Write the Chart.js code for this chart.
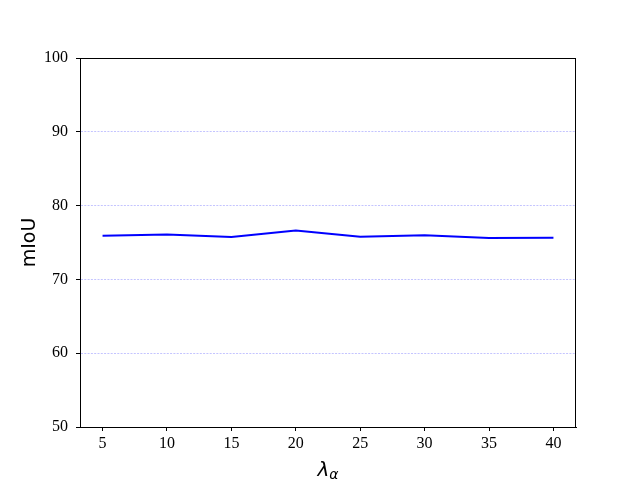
<!DOCTYPE html>
<html>
<head>
<meta charset="utf-8">
<script src="https://cdn.jsdelivr.net/npm/chart.js@4/dist/chart.umd.min.js"></script>
<style>
body {
    margin: 0;
    background: #fff;
}
#chart {
    display: block;
}
</style>
</head>
<body>
<canvas id="chart" width="640" height="480"></canvas>
<script>
// values
var lambdas = [5, 10, 15, 20, 25, 30, 35, 40];
var miou = [75.92, 76.1, 75.75, 76.62, 75.78, 75.97, 75.6, 75.63];
var xTicks = [5, 10, 15, 20, 25, 30, 35, 40];
var yTicks = [50, 60, 70, 80, 90, 100];

var tickFont = { family: "'Liberation Serif', 'DejaVu Serif', serif", size: 16 };

// top/right spines plus the axis labels (lambda with alpha subscript)
var framePlugin = {
    id: "frame",
    afterDraw: function (chart) {
        var ctx = chart.ctx;
        var a = chart.chartArea;
        ctx.save();
        ctx.strokeStyle = "#000";
        ctx.lineWidth = 1;
        ctx.strokeRect(a.left + 0.5, a.top + 0.5, a.right - a.left - 1, a.bottom - a.top);

        ctx.fillStyle = "#000";
        // y label
        ctx.translate(30, (a.top + a.bottom) / 2);
        ctx.rotate(-Math.PI / 2);
        ctx.font = "19px 'DejaVu Sans'";
        ctx.textAlign = "center";
        ctx.textBaseline = "middle";
        ctx.fillText("mIoU", 0, 0);
        ctx.restore();

        ctx.save();
        ctx.fillStyle = "#000";
        ctx.textBaseline = "alphabetic";
        ctx.textAlign = "left";
        var cx = (a.left + a.right) / 2;
        ctx.font = "italic 20px 'DejaVu Sans'";
        var w1 = ctx.measureText("λ").width;
        ctx.font = "italic 14px 'DejaVu Sans'";
        var w2 = ctx.measureText("α").width;
        var x0 = cx - (w1 + w2) / 2;
        ctx.font = "italic 20px 'DejaVu Sans'";
        ctx.fillText("λ", x0, 476);
        ctx.font = "italic 14px 'DejaVu Sans'";
        ctx.fillText("α", x0 + w1, 479);
        ctx.restore();
    }
};

var points = lambdas.map(function (l, i) { return { x: l, y: miou[i] }; });

new Chart(document.getElementById("chart").getContext("2d"), {
    type: "line",
    data: {
        datasets: [{
            data: points,
            borderColor: "#0000ff",
            borderWidth: 2,
            pointRadius: 0,
            tension: 0,
            fill: false
        }]
    },
    options: {
        responsive: false,
        animation: false,
        layout: { padding: { top: 58, right: 64, left: 0, bottom: 0 } },
        plugins: {
            legend: { display: false },
            tooltip: { enabled: false }
        },
        scales: {
            x: {
                type: "linear",
                min: 3.25,
                max: 41.75,
                afterFit: function (s) { s.height = 53; },
                afterBuildTicks: function (s) { s.ticks = xTicks.map(function (v) { return { value: v }; }); },
                grid: {
                    drawOnChartArea: false,
                    drawTicks: true,
                    tickLength: 4,
                    tickColor: "#000",
                    tickWidth: 1
                },
                border: { display: true, color: "#000", width: 1 },
                ticks: { color: "#000", font: tickFont, padding: 3, maxRotation: 0 }
            },
            y: {
                min: 50,
                max: 100,
                afterFit: function (s) { s.width = 80; },
                afterBuildTicks: function (s) { s.ticks = yTicks.map(function (v) { return { value: v }; }); },
                grid: {
                    // no dashed line on the 50 / 100 spines
                    color: function (c) {
                        var v = c.tick ? c.tick.value : 0;
                        return (v === 50 || v === 100) ? "rgba(0,0,0,0)" : "#c4c4ff";
                    },
                    lineWidth: 1,
                    drawTicks: true,
                    tickLength: 4,
                    tickColor: "#000",
                    tickWidth: 1,
                    tickBorderDash: []
                },
                border: { display: true, color: "#000", width: 1, dash: [2, 1.3] },
                ticks: { color: "#000", font: tickFont, padding: 8 }
            }
        }
    },
    plugins: [framePlugin]
});
</script>
</body>
</html>
